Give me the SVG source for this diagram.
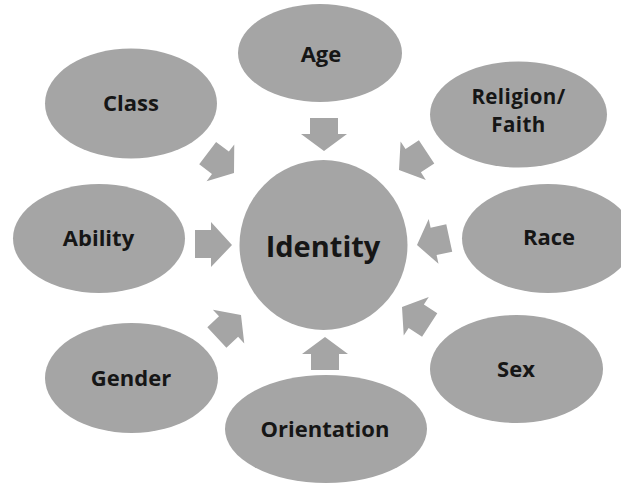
<svg xmlns="http://www.w3.org/2000/svg" width="621" height="484" viewBox="0 0 621 484">
<style>
.n{fill:#a5a5a5}
.t{font-family:"Open Sans","Liberation Sans",sans-serif;font-weight:bold;font-size:22px;fill:#161616;text-anchor:middle}
.big{font-size:29px}
.sm{font-size:20.5px;letter-spacing:0.4px}
.a{fill:#a5a5a5}
</style>
<defs>
<path id="arr" d="M-33,-14 H-17 V-23 L0,0 L-17,23 V14 H-33 Z"/>
</defs>
<rect width="621" height="484" fill="#ffffff"/>
<g id="connectors">
<use href="#arr" class="a" transform="translate(324,151) rotate(90)"/>
<use href="#arr" class="a" transform="translate(234,173) rotate(37)"/>
<use href="#arr" class="a" transform="translate(399,170) rotate(146.7)"/>
<path class="a" d="M195,230 H211 V222 L232,245 L211,267 V258 H195 Z"/>
<use href="#arr" class="a" transform="translate(417,245) rotate(167.7)"/>
<use href="#arr" class="a" transform="translate(241,315) rotate(-43)"/>
<use href="#arr" class="a" transform="translate(325,337) rotate(-90)"/>
<use href="#arr" class="a" transform="translate(402,307) rotate(213)"/>
</g>
<g id="identity"><ellipse class="n" cx="323.5" cy="245" rx="84" ry="85"/><text class="t big" x="323" y="257">Identity</text></g>
<g id="age"><ellipse class="n" cx="320" cy="53" rx="82" ry="49"/><text class="t" x="321" y="62">Age</text></g>
<g id="class"><ellipse class="n" cx="131" cy="103.5" rx="86" ry="55"/><text class="t" x="131" y="111">Class</text></g>
<g id="religion"><ellipse class="n" cx="518.5" cy="114.5" rx="88.5" ry="53"/><text class="t sm" x="518.5" y="104">Religion/</text><text class="t sm" x="518.5" y="132">Faith</text></g>
<g id="ability"><ellipse class="n" cx="99" cy="238.5" rx="86" ry="54.5"/><text class="t" x="98.5" y="246">Ability</text></g>
<g id="race"><ellipse class="n" cx="548" cy="238.5" rx="86" ry="54.5"/><text class="t" x="549" y="245">Race</text></g>
<g id="gender"><ellipse class="n" cx="131.5" cy="378" rx="86.5" ry="55"/><text class="t" x="131" y="386">Gender</text></g>
<g id="orientation"><ellipse class="n" cx="326" cy="429" rx="101" ry="54"/><text class="t" x="325" y="437">Orientation</text></g>
<g id="sex"><ellipse class="n" cx="516.5" cy="369" rx="86.5" ry="54"/><text class="t" x="516" y="377">Sex</text></g>
</svg>
